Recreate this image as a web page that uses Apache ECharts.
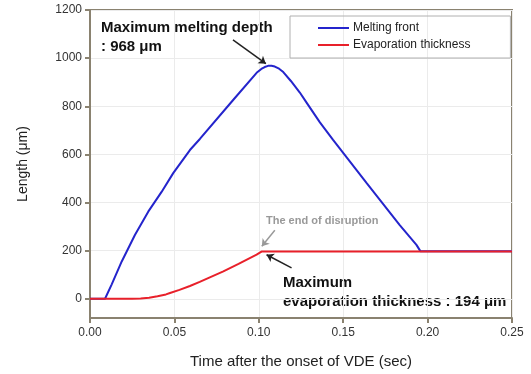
<!DOCTYPE html>
<html>
<head>
<meta charset="utf-8">
<script src="https://cdn.jsdelivr.net/npm/echarts@6/dist/echarts.min.js"></script>
<style>
  html, body { margin: 0; padding: 0; background: #fff; }
  #chart { width: 531px; height: 374px; }
</style>
</head>
<body>
<div id="chart"></div>
<script>
// melting front (blue)
const meltTime = [0, 0.0089, 0.0128, 0.0188, 0.0266, 0.0345, 0.0424, 0.0493, 0.0592, 0.0651, 0.0848, 0.0987, 0.1015, 0.1035, 0.1055, 0.1075, 0.1095, 0.112, 0.1145, 0.119, 0.1243, 0.1283, 0.1362, 0.144, 0.1638, 0.1835, 0.1934, 0.1958, 0.25];
const meltLen  = [0, 0, 59, 155, 265, 362, 444, 522, 618, 664, 826, 939, 955, 963, 968, 968, 965, 956, 942, 905, 857, 815, 733, 660, 482, 306, 224, 197, 197];
// evaporation thickness (red)
const evapTime = [0, 0.025, 0.03, 0.035, 0.04, 0.045, 0.0474, 0.053, 0.0592, 0.065, 0.07, 0.079, 0.088, 0.0987, 0.1016, 0.25];
const evapLen  = [0, 0, 1, 4, 10, 18, 24, 37, 53, 70, 86, 114, 145, 183, 196, 196];

const yTicks = [0, 200, 400, 600, 800, 1000, 1200];
const xTicks = [0, 0.05, 0.1, 0.15, 0.2, 0.25];

const pairs = (xs, ys) => xs.map((x, i) => [x, ys[i]]);

const chart = echarts.init(document.getElementById('chart'));
const frame = '#8a8270';
const font = '"Liberation Sans", Arial, sans-serif';

const option = {
    animation: false,
    backgroundColor: '#fff',
    textStyle: { fontFamily: font },
    grid: {
        left: 90, right: 19, top: 10, bottom: 54,
        show: true, borderColor: frame, borderWidth: 2
    },
    legend: {
        orient: 'vertical',
        left: 290, top: 16,
        width: 220,
        padding: [6, 40, 7, 28],
        itemGap: 5,
        itemWidth: 31, itemHeight: 2,
        icon: 'rect',
        borderColor: '#b0b0b0', borderWidth: 1,
        textStyle: { fontSize: 12, color: '#222', fontFamily: font, padding: [0, 0, 0, -1] },
        data: ['Melting front', 'Evaporation thickness']
    },
    xAxis: {
        type: 'value',
        min: 0, max: 0.25, interval: 0.05,
        name: 'Time after the onset of VDE (sec)',
        nameLocation: 'middle', nameGap: 36,
        nameTextStyle: { fontSize: 15, color: '#222', fontFamily: font },
        axisLine: { show: true, onZero: false, lineStyle: { color: frame, width: 2 } },
        axisTick: { show: true, length: 5, lineStyle: { color: frame, width: 2 } },
        axisLabel: { fontSize: 12, color: '#333', margin: 9,
            customValues: xTicks, formatter: v => v.toFixed(2) },
        splitLine: { show: true, lineStyle: { color: '#ebebeb', width: 1 } }
    },
    yAxis: {
        type: 'value',
        min: -80, max: 1200,
        name: 'Length (\u03bcm)',
        nameLocation: 'middle', nameGap: 60,
        nameTextStyle: { fontSize: 14, color: '#222', fontFamily: font },
        axisLine: { show: true, onZero: false, lineStyle: { color: frame, width: 2 } },
        axisTick: { show: true, length: 5, customValues: yTicks, lineStyle: { color: frame, width: 2 } },
        axisLabel: { fontSize: 12, color: '#333', margin: 8, customValues: yTicks,
            formatter: v => String(v) },
        splitLine: { show: true, lineStyle: { color: '#ebebeb', width: 1 } }
    },
    series: [
        {
            name: 'Evaporation thickness',
            type: 'line',
            data: pairs(evapTime, evapLen),
            showSymbol: false,
            lineStyle: { color: '#e8202a', width: 2 },
            itemStyle: { color: '#e8202a' },
            z: 3,
            markLine: {
                silent: true, symbol: ['none', 'arrow'], symbolSize: 7,
                label: { show: false },
                data: [
                    [{ coord: [0.1095, 285], lineStyle: { color: '#999', width: 1.5, type: 'solid' } },
                     { coord: [0.1018, 218] }],
                    [{ coord: [0.1194, 128], lineStyle: { color: '#222', width: 1.5, type: 'solid' } },
                     { coord: [0.1046, 183] }]
                ]
            }
        },
        {
            name: 'Melting front',
            type: 'line',
            data: pairs(meltTime, meltLen),
            showSymbol: false,
            lineStyle: { color: '#2424cc', width: 2 },
            itemStyle: { color: '#2424cc' },
            z: 2,
            markLine: {
                silent: true, symbol: ['none', 'arrow'], symbolSize: 7,
                label: { show: false },
                lineStyle: { color: '#222', width: 1.5, type: 'solid' },
                data: [
                    [{ coord: [0.0847, 1076] }, { coord: [0.1042, 977] }]
                ]
            }
        }
    ],
    graphic: [
        { type: 'text', left: 101, top: 18,
          style: { text: 'Maximum melting depth\n: 968 \u03bcm', font: 'bold 15px ' + font, fill: '#111', lineHeight: 19 } },
        { type: 'text', left: 266, top: 215,
          style: { text: 'The end of disruption', font: 'bold 11px ' + font, fill: '#999' } },
        { type: 'text', left: 283, top: 273,
          style: { text: 'Maximum\nevaporation thickness : 194 \u03bcm', font: 'bold 15px ' + font, fill: '#111', lineHeight: 19 } }
    ]
};
chart.setOption(option);
</script>
</body>
</html>
